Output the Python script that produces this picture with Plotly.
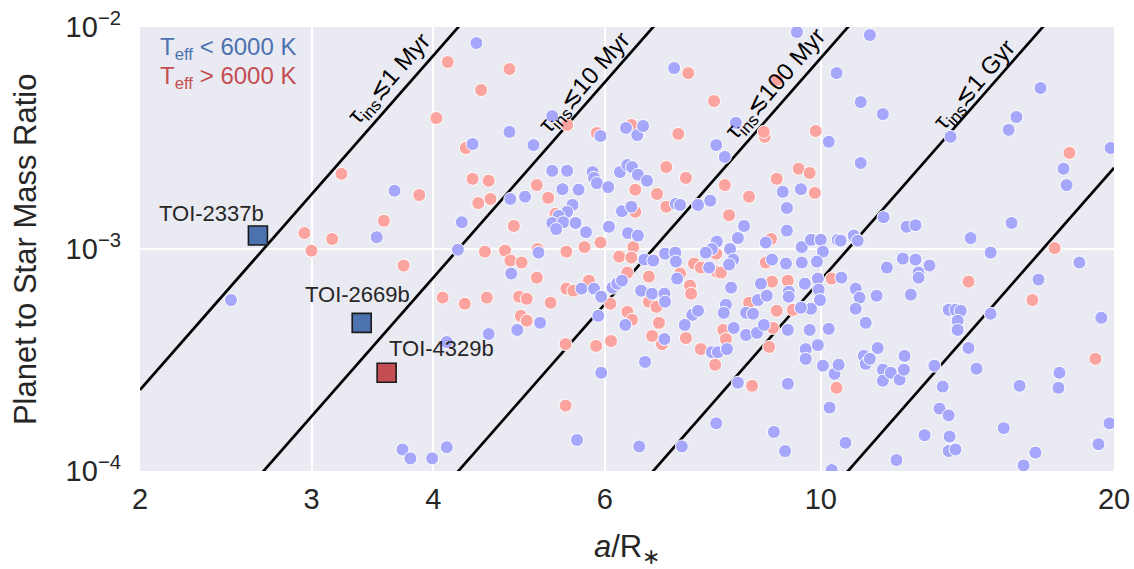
import numpy as np
import plotly.graph_objects as go

# ---------------- data ----------------
# Teff < 6000 K hosts: a/R* and planet-to-star mass ratio
cool_aR = [2.48, 3.50, 3.65, 4.13, 3.72, 3.79, 3.99, 4.13, 4.28, 4.24, 4.43, 4.79, 4.39, 5.07, 5.30,
           5.94, 6.31, 6.48, 6.57, 4.80, 4.97, 5.30, 5.49, 5.43, 5.64, 5.83, 5.85, 5.89, 6.05, 5.56,
           5.49, 5.38, 5.30, 5.44, 5.60, 5.35, 5.74, 6.06, 5.13, 6.22, 6.33, 6.40, 6.49, 6.63, 6.25,
           6.39, 6.34, 6.49, 6.59, 6.73, 7.07, 7.81, 7.97, 8.18, 10.19, 7.10, 7.17, 7.48, 7.70, 9.14,
           9.54, 9.23, 8.34, 9.23, 8.22, 8.78, 7.82, 7.73, 7.62, 8.07, 8.13, 9.56, 9.77, 10.0, 10.05,
           10.41, 6.92, 7.09, 7.10, 8.91, 9.21, 9.56, 9.91, 9.45, 11.23, 10.38, 10.99, 11.58, 10.99, 13.59,
           15.59, 15.88, 16.81, 17.75, 17.88, 19.84, 11.60, 12.25, 12.51, 10.48, 10.81, 10.91, 14.25, 15.70, 14.94,
           12.14, 12.51, 12.93, 11.69, 12.60, 12.60, 10.50, 9.63, 9.93, 9.95, 9.27, 9.27, 9.98, 9.77, 9.54,
           10.86, 10.96, 11.41, 12.37, 10.86, 11.12, 9.25, 9.74, 10.19, 9.65, 9.65, 9.93, 10.05, 10.33, 10.43,
           11.07, 11.12, 11.23, 11.44, 11.58, 11.58, 11.80, 12.05, 12.17, 12.19, 9.25, 10.21, 10.60, 9.19, 10.26,
           11.96, 12.78, 13.56, 13.53, 13.75, 13.24, 13.53, 13.34, 13.08, 14.18, 14.45, 14.94, 13.53, 13.75, 13.92,
           13.82, 13.82, 18.43, 16.73, 19.41, 17.58, 17.54, 16.00, 15.41, 16.61, 16.15, 19.28, 19.79, 4.81, 5.68,
           5.85, 5.95, 6.11, 6.18, 6.25, 6.54, 6.71, 6.30, 5.15, 4.88, 4.56, 5.91, 6.60, 5.95, 5.62,
           6.51, 7.20, 7.81, 8.22, 8.95, 7.68, 8.05, 7.12, 8.09, 8.68, 6.91, 6.92, 7.38, 7.48, 7.99,
           7.95, 8.62, 8.80, 8.38, 8.52, 7.25, 6.91, 8.14, 8.38, 8.60, 8.74, 7.73, 7.84, 8.01]
cool_q = [5.89e-4, 1.13e-3, 1.83e-3, 3.81e-4, 1.25e-4, 1.14e-4, 1.14e-4, 1.28e-4, 1.32e-3, 9.93e-4, 8.47e-3, 3.37e-3, 2.97e-3, 2.94e-3, 3.97e-3,
          3.23e-3, 3.51e-3, 3.26e-3, 3.58e-3, 1.68e-3, 1.72e-3, 2.25e-3, 2.25e-3, 1.86e-3, 1.85e-3, 2.22e-3, 2.09e-3, 1.98e-3, 1.90e-3, 1.58e-3,
          1.47e-3, 1.41e-3, 1.31e-3, 1.32e-3, 1.31e-3, 1.23e-3, 1.19e-3, 1.26e-3, 9.63e-4, 2.22e-3, 2.39e-3, 2.34e-3, 2.16e-3, 2.03e-3, 1.48e-3,
          1.55e-3, 1.18e-3, 1.15e-3, 8.96e-4, 8.87e-4, 6.53e-3, 2.94e-3, 2.60e-3, 3.70e-3, 3.04e-3, 1.60e-3, 1.58e-3, 1.58e-3, 1.65e-3, 1.81e-3,
          1.86e-3, 1.53e-3, 1.27e-3, 1.21e-3, 1.12e-3, 1.07e-3, 1.08e-3, 1.00e-3, 9.63e-4, 1.00e-3, 8.96e-4, 1.02e-3, 1.10e-3, 1.10e-3, 9.73e-4,
          1.10e-3, 9.53e-4, 9.63e-4, 8.78e-4, 8.96e-4, 8.60e-4, 8.69e-4, 8.78e-4, 9.49e-3, 9.20e-3, 6.20e-3, 4.59e-3, 4.05e-3, 2.44e-3, 3.20e-3,
          3.44e-3, 3.93e-3, 5.31e-3, 2.30e-3, 1.94e-3, 2.85e-3, 1.39e-3, 1.26e-3, 1.28e-3, 1.09e-3, 1.15e-3, 1.09e-3, 1.12e-3, 1.31e-3, 9.63e-4,
          9.05e-4, 8.96e-4, 8.42e-4, 8.25e-4, 7.83e-4, 7.43e-4, 7.43e-4, 6.98e-4, 7.36e-4, 6.56e-4, 6.42e-4, 6.10e-4, 5.89e-4, 5.38e-4, 5.44e-4,
          6.63e-4, 6.04e-4, 6.16e-4, 6.23e-4, 5.38e-4, 4.65e-4, 4.32e-4, 4.32e-4, 4.37e-4, 3.54e-4, 3.20e-4, 3.69e-4, 2.98e-4, 2.74e-4, 3.01e-4,
          3.30e-4, 3.04e-4, 3.20e-4, 3.58e-4, 2.86e-4, 2.55e-4, 2.77e-4, 2.58e-4, 2.86e-4, 3.30e-4, 2.47e-4, 1.93e-4, 1.34e-4, 1.23e-4, 1.01e-4,
          1.12e-4, 1.45e-4, 1.43e-4, 1.23e-4, 1.25e-4, 1.91e-4, 1.78e-4, 2.40e-4, 2.98e-4, 3.58e-4, 2.89e-4, 5.11e-4, 5.32e-4, 5.32e-4, 5.27e-4,
          4.75e-4, 4.32e-4, 8.69e-4, 7.28e-4, 4.90e-4, 2.77e-4, 2.37e-4, 2.42e-4, 1.56e-4, 1.21e-4, 1.06e-4, 1.32e-4, 1.64e-4, 7.75e-4, 6.63e-4,
          6.63e-4, 6.10e-4, 6.70e-4, 6.98e-4, 7.20e-4, 6.49e-4, 6.29e-4, 4.55e-4, 4.65e-4, 4.32e-4, 4.14e-4, 5.00e-4, 3.10e-4, 2.77e-4, 1.38e-4,
          1.29e-4, 1.29e-4, 1.64e-4, 2.50e-4, 1.50e-4, 8.25e-4, 8.51e-4, 7.36e-4, 6.70e-4, 6.98e-4, 6.29e-4, 5.79e-4, 5.05e-4, 5.27e-4, 5.61e-4,
          5.16e-4, 5.89e-4, 6.16e-4, 5.16e-4, 5.11e-4, 4.55e-4, 3.93e-4, 4.41e-4, 4.10e-4, 4.19e-4, 4.55e-4, 3.43e-4, 3.43e-4, 3.54e-4]

# Teff > 6000 K hosts
hot_aR = [3.22, 3.56, 2.95, 3.15, 3.00, 3.73, 4.09, 3.87, 4.14, 4.79, 4.48, 4.03, 5.49, 5.89, 6.39,
          4.32, 4.39, 4.56, 4.45, 4.58, 5.11, 5.25, 5.34, 4.84, 5.94, 5.72, 5.48, 5.12, 4.52, 4.74,
          4.80, 4.93, 6.45, 6.79, 6.45, 6.42, 6.21, 6.39, 7.14, 8.76, 8.74, 9.88, 6.94, 7.27, 7.97,
          6.94, 8.44, 8.05, 9.01, 9.49, 9.74, 9.86, 8.89, 7.81, 6.74, 7.41, 7.53, 8.78, 7.31, 7.77,
          9.01, 5.11, 4.54, 4.90, 4.99, 5.28, 5.48, 5.57, 5.78, 6.33, 6.66, 6.66, 6.78, 6.33, 6.40,
          6.71, 4.92, 4.99, 5.47, 5.88, 6.09, 6.08, 4.31, 5.47, 7.82, 7.90, 7.17, 7.34, 7.36, 8.91,
          9.25, 10.26, 8.44, 9.01, 9.36, 6.82, 6.87, 7.27, 7.94, 7.99, 8.93, 8.85, 7.53, 7.79, 8.50,
          10.38, 14.18, 17.38, 16.49, 19.14, 18.00]
hot_q = [2.18e-3, 1.34e-3, 1.18e-3, 1.11e-3, 9.83e-4, 8.42e-4, 6.04e-4, 1.75e-3, 6.95e-3, 6.47e-3, 5.20e-3, 3.89e-3, 3.62e-3, 3.33e-3, 3.62e-3,
         2.85e-3, 2.07e-3, 2.03e-3, 1.61e-3, 1.68e-3, 1.94e-3, 1.70e-3, 1.44e-3, 1.27e-3, 1.07e-3, 1.02e-3, 9.73e-4, 1.00e-3, 9.73e-4, 9.83e-4,
         8.87e-4, 8.69e-4, 1.85e-3, 1.77e-3, 1.47e-3, 1.02e-3, 9.24e-4, 9.15e-4, 3.30e-3, 3.20e-3, 3.37e-3, 3.40e-3, 2.34e-3, 2.09e-3, 1.94e-3,
         1.55e-3, 1.72e-3, 1.42e-3, 2.07e-3, 2.30e-3, 2.20e-3, 1.79e-3, 1.11e-3, 9.53e-4, 8.96e-4, 8.60e-4, 8.25e-4, 8.69e-4, 6.20e-3, 4.64e-3,
         5.77e-3, 7.43e-4, 6.04e-4, 6.10e-4, 5.97e-4, 5.73e-4, 6.63e-4, 6.49e-4, 7.20e-4, 7.83e-4, 7.51e-4, 5.79e-4, 5.49e-4, 5.21e-4, 4.80e-4,
         4.06e-4, 5.00e-4, 4.75e-4, 3.73e-4, 3.66e-4, 3.85e-4, 5.67e-4, 5.67e-4, 1.97e-4, 7.91e-4, 7.83e-4, 7.75e-4, 6.84e-4, 6.29e-4, 7.13e-4,
         7.20e-4, 7.36e-4, 5.73e-4, 5.27e-4, 5.32e-4, 4.65e-4, 3.73e-4, 3.97e-4, 4.32e-4, 3.93e-4, 4.41e-4, 3.62e-4, 3.54e-4, 3.01e-4, 2.42e-4,
         2.37e-4, 7.13e-4, 1.01e-3, 5.89e-4, 3.20e-4, 2.71e-3]

# highlighted planets
toi_names = ["TOI-2337b", "TOI-2669b", "TOI-4329b"]
toi_aR = [2.643, 3.378, 3.583]
toi_q = [1.15e-3, 4.65e-4, 2.77e-4]
toi_colors = ["#4c72b0", "#4c72b0", "#c44e52"]
toi_label_shift = [(-46, 22), (-4, 28), (55, 24)]  # label offsets (px)

# tidal inspiral timescale lines: q = q_1Myr_at_2 * (a/2)^5 / (tau / 1 Myr)
tau_myr = [1, 10, 100, 1000, 10000]
tau_text = ["1 Myr", "10 Myr", "100 Myr", "1 Gyr", None]
q_1myr_at_aR2 = 2.32e-4
line_aR = [2.0, 20.0]
# label centres (log10 a/R*, log10 q)
tau_label_pos = [(0.5577, -2.2387), (0.7579, -2.2523), (0.9540, -2.2568), (1.1583, -2.2613)]

x_ticks = [2, 3, 4, 6, 10, 20]
y_ticks = [1e-4, 1e-3, 1e-2]
y_ticktext = ["10<sup>−4</sup>", "10<sup>−3</sup>", "10<sup>−2</sup>"]

FONT = "Liberation Sans, Arial, sans-serif"
TXT = "#262626"

fig = go.Figure()

for tau in tau_myr:
    qs = [q_1myr_at_aR2 * (a / 2.0) ** 5 / tau for a in line_aR]
    fig.add_trace(go.Scatter(x=line_aR, y=qs, mode="lines",
                             line=dict(color="black", width=2.7), hoverinfo="skip",
                             showlegend=False))

fig.add_trace(go.Scatter(x=hot_aR, y=hot_q, mode="markers", showlegend=False,
                         marker=dict(size=13, color="#fba39f", line=dict(color="white", width=1))))
fig.add_trace(go.Scatter(x=cool_aR, y=cool_q, mode="markers", showlegend=False,
                         marker=dict(size=13, color="#a6a6fb", line=dict(color="white", width=1))))

fig.add_trace(go.Scatter(x=toi_aR, y=toi_q, mode="markers", showlegend=False,
                         marker=dict(symbol="square", size=19, color=toi_colors,
                                     line=dict(color="#1a1a1a", width=1.6))))

annotations = []
for name, a, q, (dx, dy) in zip(toi_names, toi_aR, toi_q, toi_label_shift):
    annotations.append(dict(x=np.log10(a), y=np.log10(q), xref="x", yref="y", text=name,
                            showarrow=False, xshift=dx, yshift=dy,
                            xanchor="center", yanchor="middle",
                            font=dict(family=FONT, size=22, color=TXT)))

for txt, (lx, ly) in zip(tau_text, tau_label_pos):
    annotations.append(dict(x=lx, y=ly, xref="x", yref="y",
                            xanchor="center", yanchor="middle",
                            text="τ<sub>ins</sub>≲" + txt, showarrow=False, textangle=-48.7,
                            font=dict(family=FONT, size=24, color="black")))

annotations += [
    dict(x=0.0185, y=0.951, xref="paper", yref="paper", xanchor="left", yanchor="middle",
         text="T<sub>eff</sub> &lt; 6000 K", showarrow=False,
         font=dict(family=FONT, size=24, color="#4c72b0")),
    dict(x=0.0185, y=0.887, xref="paper", yref="paper", xanchor="left", yanchor="middle",
         text="T<sub>eff</sub> &gt; 6000 K", showarrow=False,
         font=dict(family=FONT, size=24, color="#c44e52")),
    dict(x=-0.118, y=0.5, xref="paper", yref="paper", textangle=-90,
         xanchor="center", yanchor="middle",
         text="Planet to Star Mass Ratio", showarrow=False,
         font=dict(family=FONT, size=31, color=TXT)),
    dict(x=0.5, y=-0.175, xref="paper", yref="paper",
         xanchor="center", yanchor="middle",
         text="<i>a</i>/R<sub>∗</sub>", showarrow=False,
         font=dict(family=FONT, size=31, color=TXT)),
]

fig.update_layout(
    width=1134, height=569,
    margin=dict(l=140, r=20, t=27, b=98, autoexpand=False),
    paper_bgcolor="white", plot_bgcolor="#eaeaf2",
    font=dict(family=FONT, color=TXT),
    annotations=annotations,
    showlegend=False,
)
fig.update_xaxes(type="log", range=[np.log10(2), np.log10(20)], automargin=False,
                 tickvals=x_ticks, ticktext=[str(v) for v in x_ticks],
                 tickfont=dict(family=FONT, size=29, color=TXT),
                 showgrid=True, gridcolor="white", gridwidth=1.6,
                 zeroline=False, showline=False, ticks="", ticklabelstandoff=8)
fig.update_yaxes(type="log", range=[-4, -2], automargin=False,
                 tickvals=y_ticks, ticktext=y_ticktext,
                 tickfont=dict(family=FONT, size=29, color=TXT),
                 showgrid=True, gridcolor="white", gridwidth=1.6,
                 zeroline=False, showline=False, ticks="", ticklabelstandoff=18)

fig.write_html("out.html")
